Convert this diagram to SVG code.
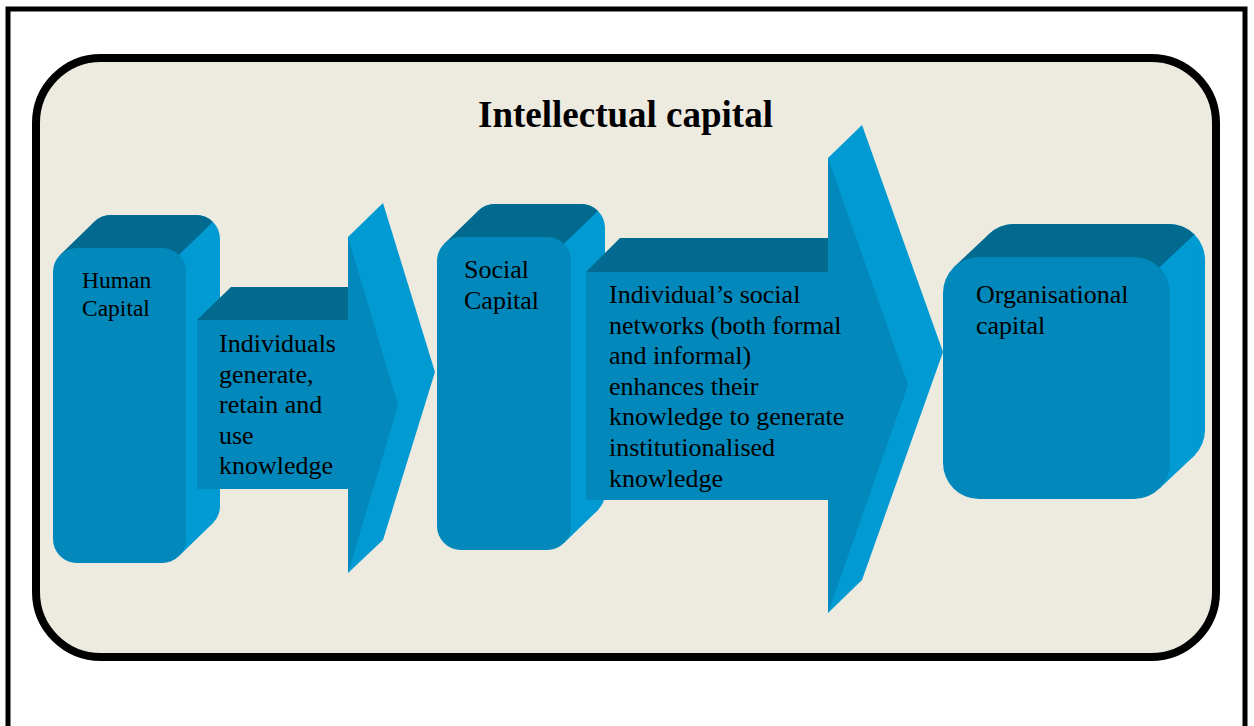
<svg xmlns="http://www.w3.org/2000/svg" width="1254" height="726" viewBox="0 0 1254 726">
<style>
.front{fill:#0288BA}
.top{fill:#016A8E}
.side{fill:#019AD2}
.lbl{font-family:"Liberation Serif","Times New Roman",serif;fill:#000}
.t26{font-size:26px}
.t23{font-size:23.5px}
.title{font-family:"Liberation Serif","Times New Roman",serif;font-size:37px;font-weight:bold;fill:#000}
</style>
<rect x="0" y="0" width="1254" height="726" fill="#FFFFFF"/>
<path d="M8,726 V9 H1245 V726" fill="none" stroke="#000" stroke-width="5"/>
<rect x="36" y="58" width="1180" height="599" rx="65" ry="65" fill="#EDEAE0" stroke="#000" stroke-width="8"/>
<text class="title" x="625.5" y="127" text-anchor="middle">Intellectual capital</text>

<g id="human-capital">
  <rect class="side" x="87" y="215" width="133" height="315" rx="24"/>
  <path class="top" d="M60,255 L94,222 A24,24 0 0 1 111,215 L196,215 A24,24 0 0 1 213,222 L179,255 Z"/>
  <polygon class="side" points="179,255 213,222 213,523 179,556"/>
  <rect class="front" x="53" y="248" width="133" height="315" rx="24"/>
  <text class="lbl t23" x="82" y="288">Human</text>
  <text class="lbl t23" x="82" y="316">Capital</text>
</g>

<g id="connectors">
  <g id="arrow-1">
    <polygon class="top" points="197,320 231,287 348,287 348,320"/>
    <rect class="front" x="197" y="320" width="151" height="169"/>
    <polygon class="side" points="348,237 383,203 435,372 383,540 348,573"/>
    <polygon class="front" points="348,237 398,405 348,573"/>
    <text class="lbl t26" x="219" y="352">Individuals</text>
    <text class="lbl t26" x="219" y="382.5">generate,</text>
    <text class="lbl t26" x="219" y="413">retain and</text>
    <text class="lbl t26" x="219" y="443.5">use</text>
    <text class="lbl t26" x="219" y="474">knowledge</text>
  </g>
</g>

<g id="social-capital">
  <rect class="side" x="471" y="204" width="134" height="313" rx="24"/>
  <path class="top" d="M444,244 L478,211 A24,24 0 0 1 495,204 L581,204 A24,24 0 0 1 598,211 L564,244 Z"/>
  <polygon class="side" points="564,244 598,211 598,510 564,543"/>
  <rect class="front" x="437" y="237" width="134" height="313" rx="24"/>
  <text class="lbl t26" x="464" y="278">Social</text>
  <text class="lbl t26" x="464" y="309">Capital</text>
</g>

<g id="connectors-2">
  <g id="arrow-2">
    <polygon class="top" points="586,272 620,238 828,238 828,272"/>
    <rect class="front" x="586" y="272" width="242" height="228"/>
    <polygon class="side" points="828,158 862,125 943,352 862,580 828,613"/>
    <polygon class="front" points="828,158 908,385 828,613"/>
    <text class="lbl t26" x="609" y="303">Individual’s social</text>
    <text class="lbl t26" x="609" y="334">networks (both formal</text>
    <text class="lbl t26" x="609" y="364">and informal)</text>
    <text class="lbl t26" x="609" y="395">enhances their</text>
    <text class="lbl t26" x="609" y="425">knowledge to generate</text>
    <text class="lbl t26" x="609" y="456">institutionalised</text>
    <text class="lbl t26" x="609" y="487">knowledge</text>
  </g>
</g>

<g id="organisational-capital">
  <rect class="side" x="978" y="224" width="227" height="242" rx="36"/>
  <path class="top" d="M953.5,267.5 L988.5,234.5 A36,36 0 0 1 1014,224 L1169,224 A36,36 0 0 1 1194.5,234.5 L1159.5,267.5 Z"/>
  <polygon class="side" points="1159.5,267.5 1194.5,234.5 1194.5,455.5 1159.5,488.5"/>
  <rect class="front" x="943" y="257" width="227" height="242" rx="36"/>
  <text class="lbl t26" x="976" y="303">Organisational</text>
  <text class="lbl t26" x="976" y="334">capital</text>
</g>
</svg>
